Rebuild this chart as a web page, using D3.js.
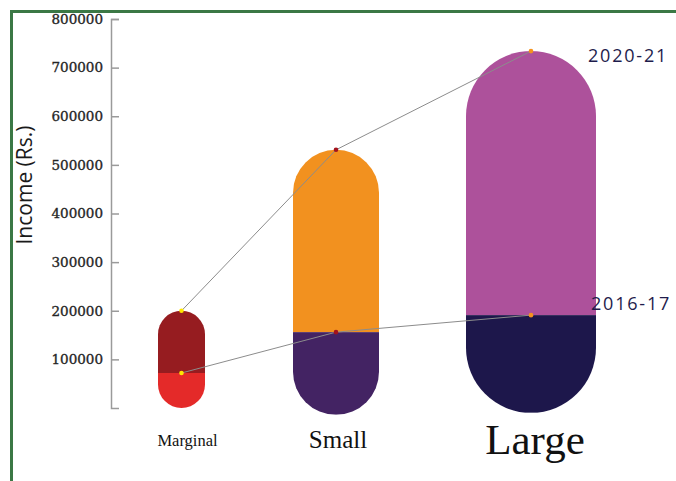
<!DOCTYPE html>
<html>
<head>
<meta charset="utf-8">
<script src="https://cdn.jsdelivr.net/npm/d3@7"></script>
<style>
  html, body { margin: 0; padding: 0; background: #fff; }
  svg { display: block; }
</style>
</head>
<body>
<svg id="chart" width="676" height="481"></svg>
<script>
// Farm income by holding size, two survey years
const categories = ["Marginal", "Small", "Large"];
const income2016 = [72000, 156000, 191000];
const income2020 = [200000, 531000, 734000];
const pillBase = [0, -14000, -10000];
const yTicks = [100000, 200000, 300000, 400000, 500000, 600000, 700000, 800000];
const seriesLabels = ["2016-17", "2020-21"];

// Layout and styling
const W = 676, H = 481;
const centers = [181.5, 336, 531];
const widths = [47, 86, 130];
const upperColors = ["#961c20", "#f2911f", "#ad519b"];
const lowerColors = ["#e42a29", "#432363", "#1d174b"];
const dotColors = ["#ffe600", "#a3121c", "#f5931e"];
const catFontSize = [16.5, 25, 43];
const catLabelDx = [6, 2, 4];
const catLabelY = [446, 448, 454];

const svg = d3.select("#chart");

const x = d3.scaleOrdinal(categories, centers);
const w = d3.scaleOrdinal(categories, widths);
const y = d3.scaleLinear().domain([0, 800000]).range([408, 19]);

// Y axis (ticks point inward, no label at zero)
const axis = d3.axisLeft(y)
  .tickValues(yTicks)
  .tickSize(-8)
  .tickSizeOuter(-8)
  .tickPadding(8)
  .tickFormat(d3.format("d"));

const gAxis = svg.append("g")
  .attr("transform", "translate(111,0)")
  .call(axis);
gAxis.select(".domain").attr("stroke", "#9a9a9a").attr("stroke-width", 1.5);
gAxis.selectAll(".tick line").attr("stroke", "#9a9a9a").attr("stroke-width", 1.5);
gAxis.selectAll(".tick text")
  .attr("fill", "#262626")
  .attr("stroke", "#262626")
  .attr("stroke-width", 0.35)
  .style("font-family", "'DejaVu Serif', serif")
  .style("font-size", "13.5px");

// Axis title
svg.append("text")
  .attr("transform", "translate(32,185) rotate(-90)")
  .attr("text-anchor", "middle")
  .attr("fill", "#1a1a1a")
  .style("font-family", "'Open Sans', sans-serif")
  .style("font-size", "21px")
  .text("Income (Rs.)");

// Frame
svg.append("path")
  .attr("d", `M11.5,${H} V11.5 H${W}`)
  .attr("fill", "none")
  .attr("stroke", "#3b7845")
  .attr("stroke-width", 3);

// Pills
const defs = svg.append("defs");
const rows = categories.map((c, i) => ({
  cat: c, i,
  lo: income2016[i], hi: income2020[i], base: pillBase[i]
}));

rows.forEach(d => {
  const cx = x(d.cat), pw = w(d.cat), r = pw / 2;
  const top = y(d.hi), bottom = y(d.base), mid = y(d.lo);
  const id = "pill-" + d.i;
  defs.append("clipPath").attr("id", id)
    .append("rect")
    .attr("x", cx - r).attr("y", top)
    .attr("width", pw).attr("height", bottom - top)
    .attr("rx", r).attr("ry", r);
  const g = svg.append("g").attr("clip-path", `url(#${id})`);
  g.append("rect")
    .attr("x", cx - r).attr("y", top)
    .attr("width", pw).attr("height", mid - top)
    .attr("fill", upperColors[d.i]);
  g.append("rect")
    .attr("x", cx - r).attr("y", mid)
    .attr("width", pw).attr("height", bottom - mid)
    .attr("fill", lowerColors[d.i]);
});

// Connecting lines for each year
const line = d3.line().x(d => d[0]).y(d => d[1]);
[income2020, income2016].forEach(vals => {
  svg.append("path")
    .datum(categories.map((c, i) => [x(c), y(vals[i])]))
    .attr("d", line)
    .attr("fill", "none")
    .attr("stroke", "#8c8c8c")
    .attr("stroke-width", 1);
});

// Value dots
[income2020, income2016].forEach(vals => {
  svg.selectAll(null)
    .data(categories)
    .enter().append("circle")
    .attr("cx", c => x(c))
    .attr("cy", (c, i) => y(vals[i]))
    .attr("r", 2.3)
    .attr("fill", (c, i) => dotColors[i]);
});

// Year labels
const yearLabelPos = [[591, 310], [588, 62]];
seriesLabels.forEach((t, k) => {
  svg.append("text")
    .attr("x", yearLabelPos[k][0])
    .attr("y", yearLabelPos[k][1])
    .attr("fill", "#1e1c4c")
    .style("font-family", "'Open Sans', sans-serif")
    .style("font-size", "18px")
    .style("letter-spacing", "1.8px")
    .text(t);
});

// Category labels
svg.selectAll(null)
  .data(categories)
  .enter().append("text")
  .attr("x", (c, i) => x(c) + catLabelDx[i])
  .attr("y", (c, i) => catLabelY[i])
  .attr("text-anchor", "middle")
  .attr("fill", "#111")
  .style("font-family", "'Liberation Serif', serif")
  .style("font-size", (c, i) => catFontSize[i] + "px")
  .text(c => c);
</script>
</body>
</html>
